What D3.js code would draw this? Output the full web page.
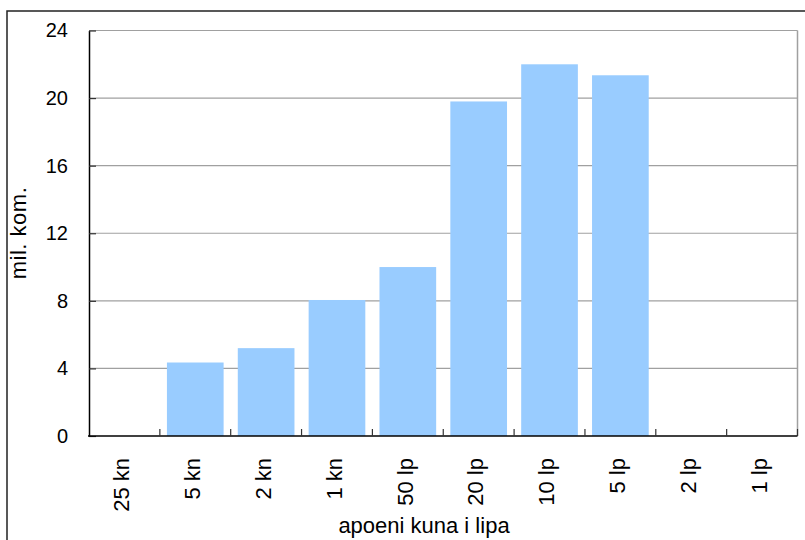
<!DOCTYPE html>
<html>
<head>
<meta charset="utf-8">
<script src="https://cdn.jsdelivr.net/npm/d3@7"></script>
<style>
  html, body { margin: 0; padding: 0; background: #fff; }
  svg { display: block; }
  text { font-family: "Liberation Sans", Arial, sans-serif; fill: #000; }
</style>
</head>
<body>
<svg id="chart" width="805" height="540"></svg>
<script>
const categories = ["25 kn", "5 kn", "2 kn", "1 kn", "50 lp", "20 lp", "10 lp", "5 lp", "2 lp", "1 lp"];
const values = [0, 4.35, 5.2, 8.05, 10.0, 19.8, 22.0, 21.35, 0, 0];
const yTicks = [0, 4, 8, 12, 16, 20, 24];
const yTitle = "mil. kom.";
const xTitle = "apoeni kuna i lipa";

(function () {
const svg = d3.select("#chart");
const pLeft = 89, pRight = 797.5, pTop = 30.5, pBottom = 436;

// outer frame (extends beyond the picture on the right and bottom)
svg.append("path")
  .attr("d", "M7,545 L7,11 L810,11")
  .attr("fill", "none").attr("stroke", "#222").attr("stroke-width", 1.5);

const x = d3.scaleBand().domain(categories).range([pLeft, pRight])
  .paddingInner(0.2).paddingOuter(0.1);
const y = d3.scaleLinear().domain([0, 24]).range([pBottom, pTop]);

// gridlines
svg.append("g").selectAll("line").data(yTicks.filter(d => d > 0)).join("line")
  .attr("x1", pLeft).attr("x2", pRight)
  .attr("y1", d => y(d)).attr("y2", d => y(d))
  .attr("stroke", "#a0a0a0").attr("stroke-width", 1.2);

// plot border right
svg.append("line").attr("x1", pRight).attr("x2", pRight).attr("y1", pTop).attr("y2", pBottom)
  .attr("stroke", "#a0a0a0").attr("stroke-width", 1.5);

// bars
svg.append("g").selectAll("rect").data(categories).join("rect")
  .attr("x", d => x(d))
  .attr("width", x.bandwidth())
  .attr("y", (d, i) => y(values[i]))
  .attr("height", (d, i) => pBottom - y(values[i]))
  .attr("fill", "#99ccff");

// y axis
const yAxis = d3.axisLeft(y).tickValues(yTicks).tickSizeInner(-7).tickSizeOuter(0).tickPadding(21);
const gy = svg.append("g").attr("transform", `translate(${pLeft},0)`).call(yAxis);
gy.select(".domain").attr("stroke", "#000").attr("stroke-width", 1.5);
gy.selectAll(".tick line").attr("stroke", "#333").attr("stroke-width", 1.2);
gy.selectAll(".tick text").attr("font-size", 20).attr("font-family", "Liberation Sans, Arial, sans-serif").attr("fill", "#000");

// x axis: ticks between categories
const step = x.step();
const boundaries = d3.range(1, categories.length + 1).map(i => pLeft + i * step);
const gx = svg.append("g");
gx.append("line").attr("x1", pLeft - 1).attr("x2", pRight).attr("y1", pBottom).attr("y2", pBottom)
  .attr("stroke", "#000").attr("stroke-width", 1.5);
gx.selectAll("line.tk").data(boundaries).join("line").attr("class", "tk")
  .attr("x1", d => d).attr("x2", d => d).attr("y1", pBottom).attr("y2", pBottom - 7)
  .attr("stroke", "#333").attr("stroke-width", 1.2);

// x labels rotated
svg.append("g").selectAll("text").data(categories).join("text")
  .attr("transform", d => `translate(${x(d) + x.bandwidth() / 2 - 3},458) rotate(-90)`)
  .attr("text-anchor", "end")
  .attr("dy", "0.35em")
  .attr("font-size", 22)
  .text(d => d);

// axis titles
svg.append("text")
  .attr("transform", "translate(26,233) rotate(-90)")
  .attr("text-anchor", "middle")
  .attr("font-size", 22)
  .attr("letter-spacing", 0.5)
  .text(yTitle);

svg.append("text")
  .attr("x", 424).attr("y", 533)
  .attr("text-anchor", "middle")
  .attr("font-size", 22)
  .text(xTitle);
})();
</script>
</body>
</html>
